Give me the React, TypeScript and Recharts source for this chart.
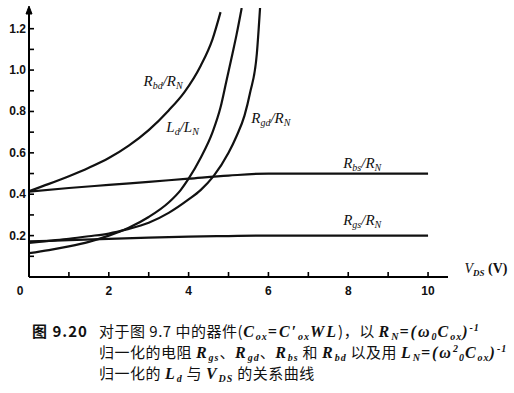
import React from "react"
import {
  LineChart,
  Line,
  XAxis,
  YAxis,
  ReferenceDot,
} from "recharts"

// V_DS sample points (V) and normalised values
const rbsX = [0, 1, 2, 3, 4, 5, 6, 7, 8, 9, 10]
const rbsY = [0.413, 0.43, 0.445, 0.46, 0.475, 0.49, 0.5, 0.5, 0.5, 0.5, 0.5]

const rgsX = [0, 1, 2, 3, 4, 5, 6, 7, 8, 9, 10]
const rgsY = [0.172, 0.178, 0.184, 0.19, 0.195, 0.198, 0.2, 0.2, 0.2, 0.2, 0.2]

const rbdX = [0, 0.5, 1, 1.5, 2, 2.5, 3, 3.5, 3.9, 4.3, 4.6, 4.8]
const rbdY = [0.415, 0.45, 0.487, 0.528, 0.575, 0.635, 0.71, 0.805, 0.895, 1.02, 1.15, 1.28]

const ldX = [0, 0.5, 1, 1.5, 2, 2.5, 3, 3.5, 3.8, 4, 4.3, 4.6, 4.8, 4.95, 5.1, 5.2, 5.33]
const ldY = [0.115, 0.13, 0.148, 0.17, 0.2, 0.238, 0.29, 0.36, 0.42, 0.475, 0.575, 0.7, 0.82, 0.95, 1.08, 1.17, 1.3]

const rgdX = [0, 0.5, 1, 1.5, 2, 2.45, 3, 3.5, 4, 4.3, 4.62, 5, 5.2, 5.4, 5.54, 5.71, 5.79]
const rgdY = [0.165, 0.175, 0.185, 0.197, 0.21, 0.23, 0.262, 0.31, 0.375, 0.42, 0.486, 0.6, 0.68, 0.78, 0.89, 1.08, 1.3]

const xTicks = [0, 1, 2, 3, 4, 5, 6, 7, 8, 9, 10]
const yTicks = [0.1, 0.2, 0.3, 0.4, 0.5, 0.6, 0.7, 0.8, 0.9, 1.0, 1.1, 1.2]

// curve labels: [main, sub, main, sub], position in data units
const curveLabels = [
  { parts: ["R", "bd", "/R", "N"], x: 3.36, y: 0.945 },
  { parts: ["L", "d", "/L", "N"], x: 3.85, y: 0.726 },
  { parts: ["R", "gd", "/R", "N"], x: 6.06, y: 0.77 },
  { parts: ["R", "bs", "/R", "N"], x: 8.35, y: 0.55 },
  { parts: ["R", "gs", "/R", "N"], x: 8.35, y: 0.277 },
]

const pts = (xs: number[], ys: number[]) => xs.map((x, i) => ({ x, y: ys[i] }))

const series = [
  pts(rbsX, rbsY),
  pts(rgsX, rgsY),
  pts(rbdX, rbdY),
  pts(ldX, ldY),
  pts(rgdX, rgdY),
]

const tickFont = "'Liberation Sans', Arial, sans-serif"
const mathFont = "'Liberation Serif', 'DejaVu Serif', serif"

const XTick = ({ x, y, payload }: any) => {
  const v = payload.value
  return (
    <g>
      <line x1={x} x2={x} y1={y} y2={y - 5} stroke="#000" strokeWidth={1.6} />
      {v % 2 === 0 && (
        <text
          x={v === 0 ? x - 9 : x}
          y={y + 18}
          textAnchor="middle"
          fontFamily={tickFont}
          fontWeight="bold"
          fontSize={12}
          fill="#111"
        >
          {v}
        </text>
      )}
    </g>
  )
}

const YTick = ({ x, y, payload }: any) => {
  const v = payload.value
  const major = Math.round(v * 10) % 2 === 0
  return (
    <g>
      <line x1={x} x2={x + 5} y1={y} y2={y} stroke="#000" strokeWidth={1.6} />
      {major && (
        <text
          x={x - 3}
          y={y + 4}
          textAnchor="end"
          fontFamily={tickFont}
          fontWeight="bold"
          fontSize={12}
          fill="#111"
        >
          {v.toFixed(1)}
        </text>
      )}
    </g>
  )
}

const SubText = ({ cx, cy, parts }: any) => (
  <text
    x={cx}
    y={cy + 5}
    textAnchor="middle"
    fontFamily={mathFont}
    fontStyle="italic"
    fontSize={15}
    fill="#111"
  >
    <tspan>{parts[0]}</tspan>
    <tspan dy={3} fontSize={10}>{parts[1]}</tspan>
    <tspan dy={-3}>{parts[2]}</tspan>
    <tspan dy={3} fontSize={10}>{parts[3]}</tspan>
  </text>
)

const Arrow = ({ cx, cy }: any) => (
  <path d={`M${cx - 3},${cy + 6} L${cx},${cy - 2} L${cx + 3},${cy + 6} Z`} fill="#000" stroke="#000" strokeWidth={1} />
)

const VdsLabel = ({ cx, cy }: any) => (
  <text x={cx} y={cy + 5} textAnchor="middle" fontFamily={mathFont} fontSize={14} fill="#111">
    <tspan fontStyle="italic">V</tspan>
    <tspan dy={3} fontSize={9} fontStyle="italic" fontWeight="bold">DS</tspan>
    <tspan dy={-3} fontWeight="bold"> (V)</tspan>
  </text>
)

const math: React.CSSProperties = {
  fontFamily: mathFont,
  fontStyle: "italic",
  fontWeight: "bold",
  fontSize: 16,
  letterSpacing: 2,
}

const sub: React.CSSProperties = { fontSize: 10, verticalAlign: "-3px", lineHeight: 0, letterSpacing: 1 }
const sup: React.CSSProperties = { fontSize: 10, verticalAlign: "6px", lineHeight: 0, letterSpacing: 1 }
const row: React.CSSProperties = { height: 21, lineHeight: "21px" }

export default function App() {
  return (
    <div style={{ position: "absolute", left: 0, top: 0, width: 514, height: 393, background: "#fff" }}>
      <LineChart
        width={514}
        height={300}
        margin={{ top: 8, right: 66, left: 0, bottom: 0 }}
      >
        <XAxis
          dataKey="x"
          type="number"
          domain={[0, 10.5]}
          ticks={xTicks}
          interval={0}
          height={23}
          tickSize={0}
          tickMargin={0}
          tickLine={false}
          tick={<XTick />}
          axisLine={{ stroke: "#000", strokeWidth: 2 }}
          allowDataOverflow
        />
        <YAxis
          type="number"
          domain={[0, 1.3]}
          ticks={yTicks}
          interval={0}
          width={29}
          tickSize={0}
          tickMargin={0}
          tickLine={false}
          tick={<YTick />}
          axisLine={{ stroke: "#000", strokeWidth: 2 }}
          allowDataOverflow
        />
        {series.map((d, i) => (
          <Line
            key={i}
            data={d}
            dataKey="y"
            type="monotone"
            stroke="#111"
            strokeWidth={2.2}
            dot={false}
            activeDot={false}
            isAnimationActive={false}
          />
        ))}
        {curveLabels.map((c, i) => (
          <ReferenceDot
            key={i}
            x={c.x}
            y={c.y}
            r={1}
            ifOverflow="visible"
            shape={(p: any) => <SubText cx={p.cx} cy={p.cy} parts={c.parts} />}
          />
        ))}
        <ReferenceDot x={0} y={1.3} r={1} ifOverflow="visible" shape={(p: any) => <Arrow cx={p.cx} cy={p.cy} />} />
        <ReferenceDot x={11.45} y={0.045} r={1} ifOverflow="visible" shape={(p: any) => <VdsLabel cx={p.cx} cy={p.cy} />} />
      </LineChart>

      <div
        style={{
          position: "absolute",
          left: 32,
          top: 320,
          fontFamily: "'Noto Sans CJK SC', sans-serif",
          fontSize: 15,
          letterSpacing: 0.5,
          color: "#111",
          whiteSpace: "nowrap",
        }}
      >
        <div style={row}>
          <span style={{ fontWeight: "bold", display: "inline-block", width: 67, letterSpacing: 1 }}>图 9.20</span>
          对于图 9.7 中的器件(<span style={math}>C<span style={sub}>ox</span>=C′<span style={sub}>ox</span>WL</span>)，以 <span style={math}>R<span style={sub}>N</span>=(ω<span style={sub}>0</span>C<span style={sub}>ox</span>)<span style={sup}>-1</span></span>
        </div>
        <div style={{ ...row, paddingLeft: 67 }}>
          归一化的电阻 <span style={math}>R<span style={sub}>gs</span></span>、<span style={math}>R<span style={sub}>gd</span></span>、<span style={math}>R<span style={sub}>bs</span></span> 和 <span style={math}>R<span style={sub}>bd</span></span> 以及用 <span style={math}>L<span style={sub}>N</span>=(ω<span style={sup}>2</span><span style={sub}>0</span>C<span style={sub}>ox</span>)<span style={sup}>-1</span></span>
        </div>
        <div style={{ ...row, paddingLeft: 67 }}>
          归一化的 <span style={math}>L<span style={sub}>d</span></span> 与 <span style={math}>V<span style={sub}>DS</span></span> 的关系曲线
        </div>
      </div>
    </div>
  )
}
